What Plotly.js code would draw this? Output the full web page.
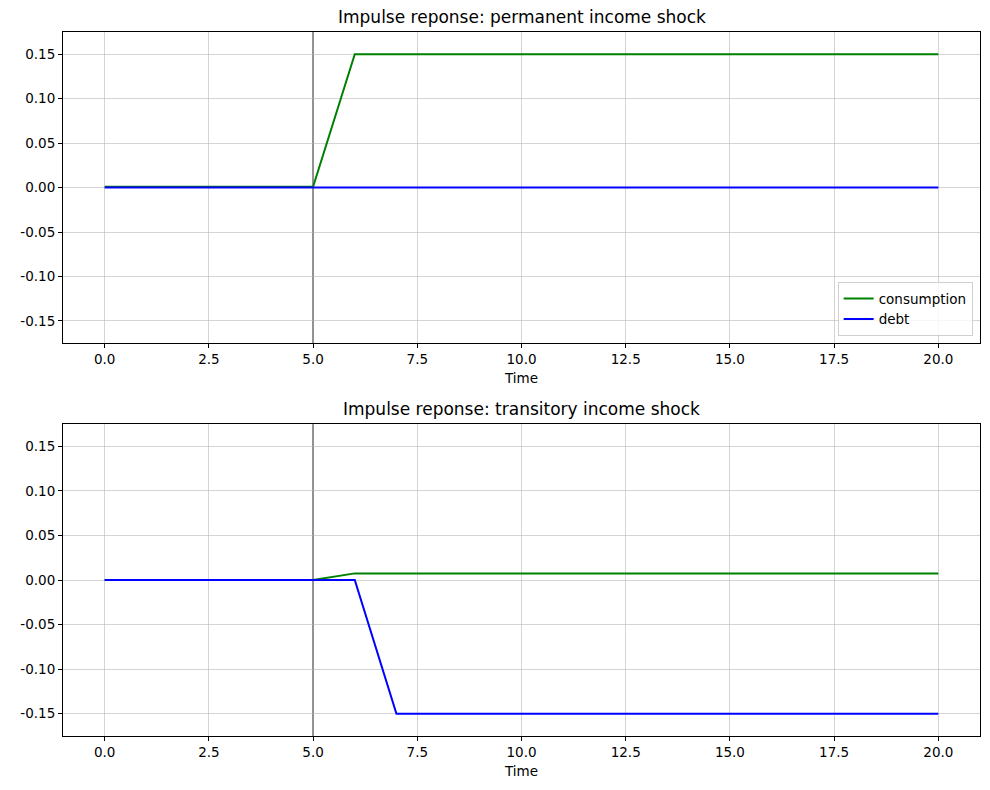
<!DOCTYPE html>
<html>
<head>
<meta charset="utf-8">
<script src="https://cdn.plot.ly/plotly-3.0.1.min.js"></script>
<style>
  html, body { margin: 0; padding: 0; background: #fff; }
  #chart { width: 990px; height: 790px; }
</style>
</head>
<body>
<div id="chart"></div>
<script>
const time = [0, 1, 2, 3, 4, 5, 6, 7, 8, 9, 10, 11, 12, 13, 14, 15, 16, 17, 18, 19, 20];
const shockTime = 5;

// permanent income shock
const permConsumption = [0.001, 0.001, 0.001, 0.001, 0.001, 0.001, 0.15, 0.15, 0.15, 0.15, 0.15,
  0.15, 0.15, 0.15, 0.15, 0.15, 0.15, 0.15, 0.15, 0.15, 0.15];
const permDebt = [0, 0, 0, 0, 0, 0, 0, 0, 0, 0, 0, 0, 0, 0, 0, 0, 0, 0, 0, 0, 0];

// transitory income shock
const transConsumption = [0, 0, 0, 0, 0, 0, 0.0075, 0.0075, 0.0075, 0.0075, 0.0075,
  0.0075, 0.0075, 0.0075, 0.0075, 0.0075, 0.0075, 0.0075, 0.0075, 0.0075, 0.0075];
const transDebt = [0, 0, 0, 0, 0, 0, 0, -0.15, -0.15, -0.15, -0.15, -0.15, -0.15,
  -0.15, -0.15, -0.15, -0.15, -0.15, -0.15, -0.15, -0.15];

const titles = ['Impulse reponse: permanent income shock', 'Impulse reponse: transitory income shock'];
const xTicks = [0, 2.5, 5, 7.5, 10, 12.5, 15, 17.5, 20];
const yTicks = [-0.15, -0.10, -0.05, 0, 0.05, 0.10, 0.15];

const font = {family: 'DejaVu Sans, sans-serif', size: 13.5, color: '#000'};
const titleFont = {family: 'DejaVu Sans, sans-serif', size: 17, color: '#000'};
const gridColor = 'rgba(176,176,176,0.55)';

function line(x, y, name, color, xa, ya, show) {
  return {x: x, y: y, name: name, type: 'scatter', mode: 'lines',
    line: {color: color, width: 2}, xaxis: xa, yaxis: ya, showlegend: show};
}

const traces = [
  line(time, permConsumption, 'consumption', 'green', 'x', 'y', true),
  line(time, permDebt, 'debt', 'blue', 'x', 'y', true),
  line(time, transConsumption, 'consumption', 'green', 'x2', 'y2', false),
  line(time, transDebt, 'debt', 'blue', 'x2', 'y2', false)
];

function xAxis(anchor) {
  return {
    anchor: anchor, domain: [0, 1], range: [-1, 21],
    tickvals: xTicks, ticktext: xTicks.map(v => v.toFixed(1)),
    ticks: 'outside', ticklen: 4, tickcolor: '#000',
    showline: true, linecolor: '#000', linewidth: 1, mirror: true,
    showgrid: true, gridcolor: gridColor, gridwidth: 1, zeroline: false,
    title: {text: 'Time', font: font, standoff: 7}, tickfont: font
  };
}
function yAxis(anchor, domain) {
  return {
    anchor: anchor, domain: domain, range: [-0.175, 0.175],
    tickvals: yTicks, ticktext: yTicks.map(v => v.toFixed(2)),
    ticks: 'outside', ticklen: 4, tickcolor: '#000',
    showline: true, linecolor: '#000', linewidth: 1, mirror: true,
    showgrid: true, gridcolor: gridColor, gridwidth: 1, zeroline: false,
    tickfont: font
  };
}

const layout = {
  width: 990, height: 790,
  margin: {l: 63, r: 10, t: 32, b: 54},
  paper_bgcolor: '#fff', plot_bgcolor: '#fff',
  font: font,
  xaxis: xAxis('y'),
  yaxis: yAxis('x', [0.558, 1]),
  xaxis2: xAxis('y2'),
  yaxis2: yAxis('x2', [0, 0.443]),
  legend: {
    x: 0.992, y: 0.568, xanchor: 'right', yanchor: 'bottom',
    bgcolor: 'rgba(255,255,255,0.8)', bordercolor: '#d0d0d0', borderwidth: 1,
    font: font, tracegroupgap: 0
  },
  shapes: [
    {type: 'line', xref: 'x', yref: 'y domain', x0: shockTime, x1: shockTime, y0: 0, y1: 1,
      line: {color: '#000', width: 1}, layer: 'below'},
    {type: 'line', xref: 'x2', yref: 'y2 domain', x0: shockTime, x1: shockTime, y0: 0, y1: 1,
      line: {color: '#000', width: 1}, layer: 'below'}
  ],
  annotations: [
    {text: titles[0], xref: 'paper', yref: 'paper', x: 0.5, y: 1, yanchor: 'bottom', yshift: 3,
      showarrow: false, font: titleFont},
    {text: titles[1], xref: 'paper', yref: 'paper', x: 0.5, y: 0.443, yanchor: 'bottom', yshift: 3,
      showarrow: false, font: titleFont}
  ]
};

Plotly.newPlot('chart', traces, layout, {staticPlot: true});
</script>
</body>
</html>
